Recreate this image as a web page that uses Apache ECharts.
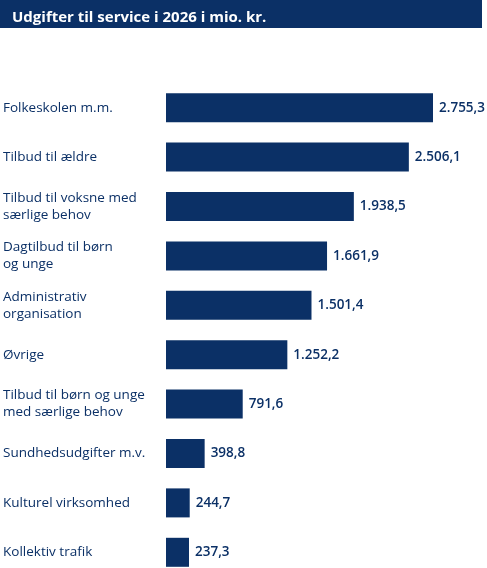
<!DOCTYPE html>
<html>
<head>
<meta charset="utf-8">
<script src="https://cdn.jsdelivr.net/npm/echarts@6/dist/echarts.min.js"></script>
<style>
html, body { margin: 0; padding: 0; background: #fff; }
#chart { width: 487px; height: 568px; }
</style>
</head>
<body>
<div id="chart"></div>
<script>
// data
var categories = [
	'Folkeskolen m.m.',
	'Tilbud til ældre',
	'Tilbud til voksne med\nsærlige behov',
	'Dagtilbud til børn\nog unge',
	'Administrativ\norganisation',
	'Øvrige',
	'Tilbud til børn og unge\nmed særlige behov',
	'Sundhedsudgifter m.v.',
	'Kulturel virksomhed',
	'Kollektiv trafik'
];
var values = [2755.3, 2506.1, 1938.5, 1661.9, 1501.4, 1252.2, 791.6, 398.8, 244.7, 237.3];

var navy = '#0b3066';

function danish(v) {
	var parts = v.toFixed(1).split('.');
	return parts[0].replace(/\B(?=(\d{3})+(?!\d))/g, '.') + ',' + parts[1];
}

var chart = echarts.init(document.getElementById('chart'));
var option = {
	animation: false,
	title: {
		text: 'Udgifter til service i 2026 i mio. kr.',
		left: 7,
		top: 5,
		textStyle: { color: '#fff', fontSize: 15, fontWeight: 'bold', fontFamily: 'Open Sans' }
	},
	graphic: [{
		type: 'rect',
		z: -1,
		shape: { x: 0, y: 0, width: 482, height: 28 },
		style: { fill: navy }
	}],
	grid: { left: 166, top: 83, width: 267, height: 494, outerBoundsMode: 'none', containLabel: false },
	xAxis: {
		type: 'value',
		min: 0,
		max: 2755.3,
		show: false
	},
	yAxis: {
		type: 'category',
		inverse: true,
		data: categories,
		axisLine: { show: false },
		axisTick: { show: false },
		axisLabel: {
			align: 'left',
			margin: 163,
			color: navy,
			fontSize: 13.5,
			lineHeight: 17,
			fontFamily: 'Open Sans'
		}
	},
	series: [{
		type: 'bar',
		data: values,
		barWidth: 29,
		itemStyle: { color: navy },
		label: {
			show: true,
			position: 'right',
			distance: 6,
			color: navy,
			fontSize: 13.5,
			fontWeight: 600,
			fontFamily: 'Open Sans',
			formatter: function(p) { return danish(p.value); }
		}
	}]
};
chart.setOption(option);
</script>
</body>
</html>
